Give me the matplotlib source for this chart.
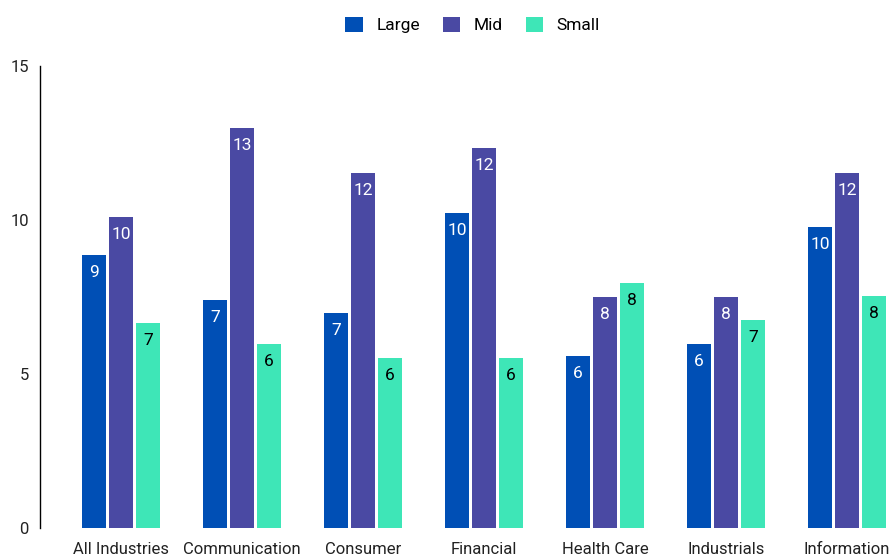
import numpy as np
import matplotlib.pyplot as plt

plt.rcParams['font.family'] = ['Roboto', 'DejaVu Sans']

industries = ['All Industries', 'Communication', 'Consumer', 'Financial',
              'Health Care', 'Industrials', 'Information']
large = [8.86, 7.4, 6.98, 10.23, 5.58, 5.97, 9.77]
mid = [10.1, 12.99, 11.52, 12.34, 7.5, 7.5, 11.52]
small = [6.66, 5.97, 5.52, 5.52, 7.95, 6.75, 7.53]
y_ticks = [0, 5, 10, 15]

series = [('Large', large, '#004fb5', 'white'),
          ('Mid', mid, '#4a49a3', 'white'),
          ('Small', small, '#3ee6b7', 'black')]

fig = plt.figure(figsize=(8.9, 5.58), dpi=100)
ax = fig.add_axes([40 / 890, 1 - 528 / 558, 850 / 890, (528 - 66) / 558])

x = np.arange(len(industries))
w = 0.198
step = 0.223
for i, (name, vals, color, tcolor) in enumerate(series):
    pos = x + (i - 1) * step
    bars = ax.bar(pos, vals, width=w, color=color, label=name, zorder=2)
    for b, v in zip(bars, vals):
        ax.text(b.get_x() + b.get_width() / 2, v - 0.33, f'{int(v + 0.5)}',
                ha='center', va='top', color=tcolor, fontsize=12.5)

ax.set_xlim(-0.668, 6.355)
ax.set_ylim(0, 15)
ax.set_yticks(y_ticks)
ax.set_xticks(x)
ax.set_xticklabels(industries)
ax.tick_params(axis='both', length=0, labelsize=12, colors='#222222')
ax.tick_params(axis='x', pad=10)
ax.tick_params(axis='y', pad=8)
for s in ['top', 'right', 'bottom']:
    ax.spines[s].set_visible(False)
ax.spines['left'].set_color('black')
ax.spines['left'].set_linewidth(1)

fig.legend(loc='upper center', bbox_to_anchor=(0.531, 0.998), ncol=3, frameon=False,
           fontsize=12.5, handlelength=1.0, handleheight=1.0, columnspacing=1.3,
           handletextpad=0.8)

fig.savefig('out.png', dpi=100)
